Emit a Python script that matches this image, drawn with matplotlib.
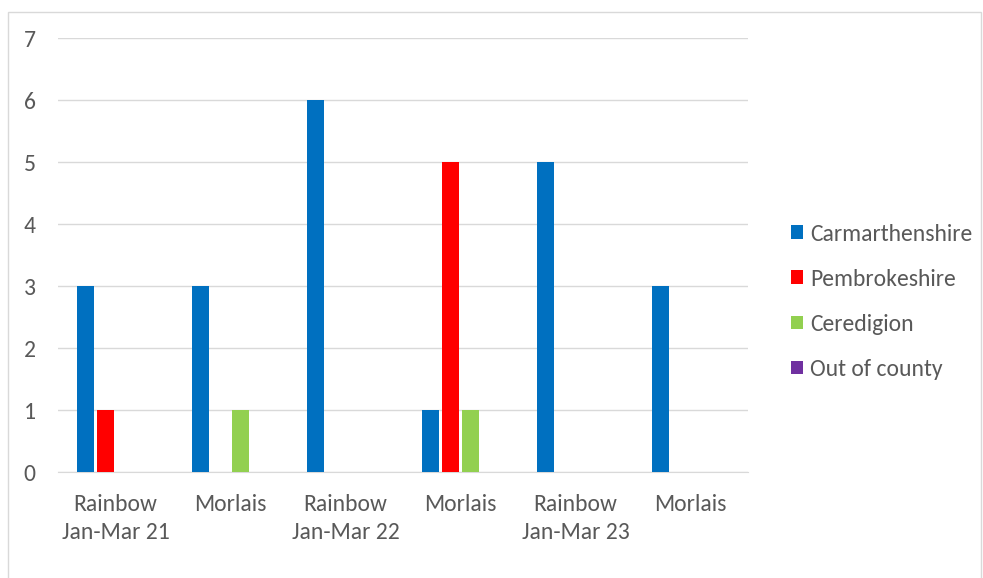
import numpy as np
import matplotlib.pyplot as plt
from matplotlib.patches import Rectangle

categories = ["Rainbow\nJan-Mar 21", "Morlais", "Rainbow\nJan-Mar 22", "Morlais",
              "Rainbow\nJan-Mar 23", "Morlais"]
series_names = ["Carmarthenshire", "Pembrokeshire", "Ceredigion", "Out of county"]
carmarthenshire = [3, 3, 6, 1, 5, 3]
pembrokeshire = [1, 0, 0, 5, 0, 0]
ceredigion = [0, 1, 0, 1, 0, 0]
out_of_county = [0, 0, 0, 0, 0, 0]
colors = ["#0070C0", "#FF0000", "#92D050", "#7030A0"]

plt.rcParams['font.family'] = ['Calibri', 'Carlito', 'Liberation Sans', 'DejaVu Sans']

fig = plt.figure(figsize=(9.83, 5.78), dpi=100)
fig.patches.append(Rectangle((0.008, -0.01), 0.99, 0.99, transform=fig.transFigure,
                             fill=False, edgecolor="#D9D9D9", linewidth=1))
ax = fig.add_axes([0.059, 0.183, 0.702, 0.751])

x = np.arange(len(categories))
width = 0.148
step = 0.174
all_series = [carmarthenshire, pembrokeshire, ceredigion, out_of_county]
for i, (name, vals) in enumerate(zip(series_names, all_series)):
    offset = (i - 1.5) * step
    ax.bar(x + offset, vals, width, color=colors[i], label=name, zorder=3)

ax.set_xlim(-0.5, len(categories) - 0.5)
ax.set_ylim(0, 7)
ax.set_yticks(range(8))
ax.yaxis.grid(True, color="#D9D9D9", linewidth=1, zorder=0)
ax.set_xticks(x)
ax.set_xticklabels(categories, linespacing=1.4)
ax.tick_params(axis='both', length=0, labelsize=17, colors="#595959")
ax.tick_params(axis='x', pad=16)
ax.tick_params(axis='y', pad=16)
for s in ["top", "right", "left"]:
    ax.spines[s].set_visible(False)
ax.spines["bottom"].set_color("#D9D9D9")

ax.legend(loc="center left", bbox_to_anchor=(1.032, 0.393), frameon=False, fontsize=17,
          handlelength=0.5, handleheight=0.5, labelspacing=1.02, handletextpad=0.3,
          labelcolor="#595959")

plt.savefig("out.png", dpi=100)
